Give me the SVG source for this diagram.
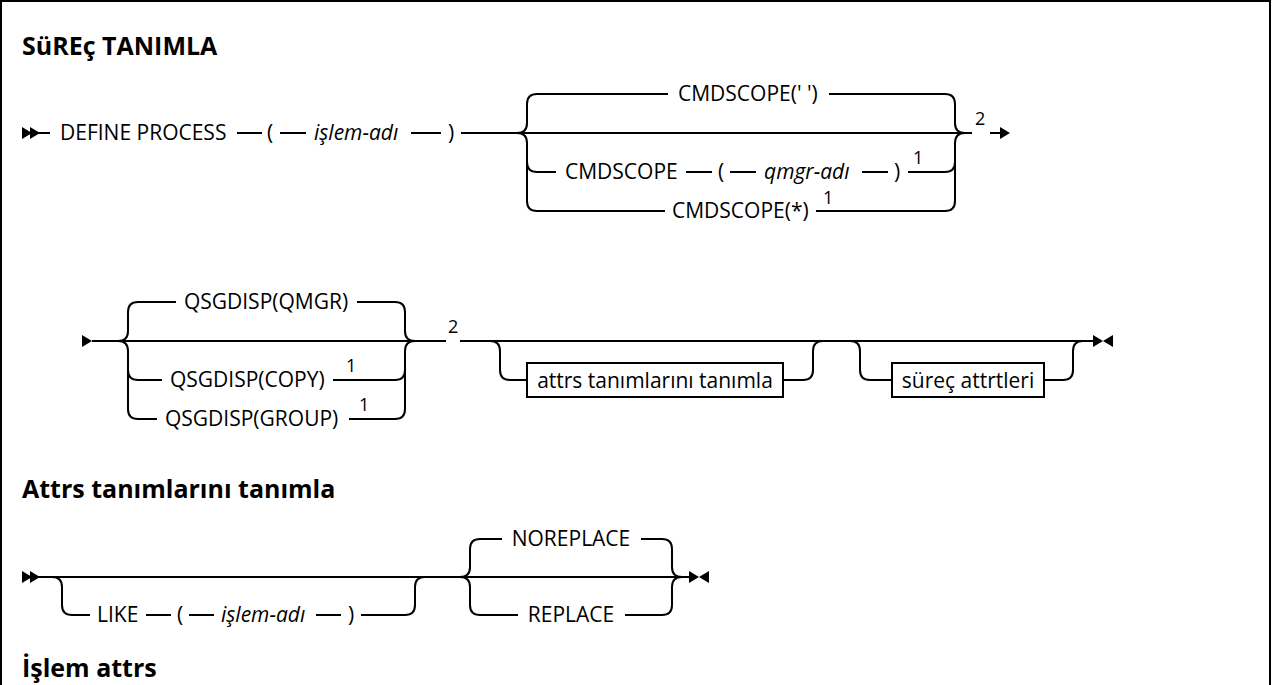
<svg xmlns="http://www.w3.org/2000/svg" width="1272" height="685" viewBox="0 0 1272 685">
<style>
.t{font-family:"Open Sans","Liberation Sans",sans-serif;font-size:21px;fill:#000}
.i{font-style:italic}
.h{font-family:"Open Sans","Liberation Sans",sans-serif;font-weight:bold;font-size:25px;fill:#000}
.n{font-family:"Open Sans","Liberation Sans",sans-serif;font-size:18px;fill:#000}
.l{fill:none;stroke:#000;stroke-width:2}
.b{fill:#fff;stroke:#000;stroke-width:2}
.m{fill:#000}
</style>
<defs>
<polygon id="tr" class="m" points="0,-6 10,0 0,6"/>
<polygon id="tl" class="m" points="10,-6 0,0 10,6"/>
</defs>
<rect x="1" y="1" width="1269" height="720" fill="none" stroke="#000" stroke-width="2"/>
<g id="title"><text class="h" x="22" y="55">SüREç TANIMLA</text></g>
<g id="heading2"><text class="h" x="22" y="498">Attrs tanımlarını tanımla</text></g>
<g id="heading3"><text class="h" x="22" y="677">İşlem attrs</text></g>

<g id="connectors">
<!-- row 1 -->
<path class="l" d="M36,133 L50,133 M237,133 L262,133 M280,133 L306,133 M411,133 L441,133 M461,133 L972,133 M990,133 L1000,133"/>
<path class="l" d="M517,133 Q527,133 527,123 L527,104 Q527,94 537,94 L668,94 M829,94 L945,94 Q955,94 955,104 L955,123 Q955,133 965,133"/>
<path class="l" d="M517,133 Q527,133 527,143 L527,201 Q527,211 537,211 L665,211 M816,211 L945,211 Q955,211 955,201 L955,143 Q955,133 965,133"/>
<path class="l" d="M527,162 Q527,172 537,172 L556,172 M686,172 L712,172 M730,172 L756,172 M862,172 L888,172 M908,172 L945,172 Q955,172 955,162"/>
<!-- row 2 -->
<path class="l" d="M92,341 L446,341 M460,341 L1093,341"/>
<path class="l" d="M118,341 Q128,341 128,331 L128,312 Q128,302 138,302 L176,302 M357,302 L395,302 Q405,302 405,312 L405,331 Q405,341 415,341"/>
<path class="l" d="M118,341 Q128,341 128,351 L128,409 Q128,419 138,419 L157,419 M349,419 L395,419 Q405,419 405,409 L405,351 Q405,341 415,341"/>
<path class="l" d="M128,370 Q128,380 138,380 L162,380 M333,380 L395,380 Q405,380 405,370"/>
<path class="l" d="M490,341 Q500,341 500,351 L500,370 Q500,380 510,380 L527,380 M783,380 L803,380 Q813,380 813,370 L813,351 Q813,341 823,341"/>
<path class="l" d="M850,341 Q860,341 860,351 L860,370 Q860,380 870,380 L892,380 M1044,380 L1063,380 Q1073,380 1073,370 L1073,351 Q1073,341 1083,341"/>
<!-- row 3 -->
<path class="l" d="M36,577 L689,577"/>
<path class="l" d="M52,577 Q62,577 62,587 L62,605 Q62,615 72,615 L90,615 M146,615 L171,615 M189,615 L214,615 M316,615 L341,615 M361,615 L405,615 Q415,615 415,605 L415,587 Q415,577 425,577"/>
<path class="l" d="M460,577 Q470,577 470,567 L470,549 Q470,539 480,539 L502,539 M641,539 L662,539 Q672,539 672,549 L672,567 Q672,577 682,577"/>
<path class="l" d="M460,577 Q470,577 470,587 L470,605 Q470,615 480,615 L518,615 M625,615 L662,615 Q672,615 672,605 L672,587 Q672,577 682,577"/>
</g>

<g id="markers">
<use href="#tr" x="22" y="133"/><use href="#tr" x="30" y="133"/>
<use href="#tr" x="1000" y="133"/>
<use href="#tr" x="82" y="341"/>
<use href="#tr" x="1093" y="341"/><use href="#tl" x="1103" y="341"/>
<use href="#tr" x="22" y="577"/><use href="#tr" x="30" y="577"/>
<use href="#tr" x="689" y="577"/><use href="#tl" x="699" y="577"/>
</g>

<g id="define-process"><text class="t" x="60" y="140">DEFINE PROCESS</text></g>
<g id="lparen1"><text class="t" x="267" y="140">(</text></g>
<g id="islem-adi1"><text class="t i" x="314" y="140">işlem-adı</text></g>
<g id="rparen1"><text class="t" x="448" y="140">)</text></g>
<g id="cmdscope-blank"><text class="t" x="678" y="101">CMDSCOPE(' ')</text></g>
<g id="cmdscope-qmgr">
<text class="t" x="565" y="179">CMDSCOPE</text>
<text class="t" x="718" y="179">(</text>
<text class="t i" x="764" y="179">qmgr-adı</text>
<text class="t" x="894" y="179">)</text>
<text class="n" x="913" y="164">1</text>
</g>
<g id="cmdscope-star"><text class="t" x="672" y="218">CMDSCOPE(*)</text><text class="n" x="823" y="204">1</text></g>
<g id="note2a"><text class="n" x="975" y="125">2</text></g>

<g id="qsg-qmgr"><text class="t" x="266" y="309" text-anchor="middle">QSGDISP(QMGR)</text></g>
<g id="qsg-copy"><text class="t" x="170" y="387">QSGDISP(COPY)</text><text class="n" x="346" y="372">1</text></g>
<g id="qsg-group"><text class="t" x="165" y="426">QSGDISP(GROUP)</text><text class="n" x="359" y="411">1</text></g>
<g id="note2b"><text class="n" x="448" y="333">2</text></g>
<g id="attrs-box"><rect class="b" x="527" y="363" width="256" height="34"/><text class="t" x="655" y="388" text-anchor="middle">attrs tanımlarını tanımla</text></g>
<g id="surec-box"><rect class="b" x="892" y="363" width="152" height="34"/><text class="t" x="968" y="388" text-anchor="middle">süreç attrtleri</text></g>

<g id="like">
<text class="t" x="97" y="622">LIKE</text>
<text class="t" x="177" y="622">(</text>
<text class="t i" x="221" y="622">işlem-adı</text>
<text class="t" x="348" y="622">)</text>
</g>
<g id="noreplace"><text class="t" x="571" y="546" text-anchor="middle">NOREPLACE</text></g>
<g id="replace"><text class="t" x="571" y="622" text-anchor="middle">REPLACE</text></g>
</svg>
